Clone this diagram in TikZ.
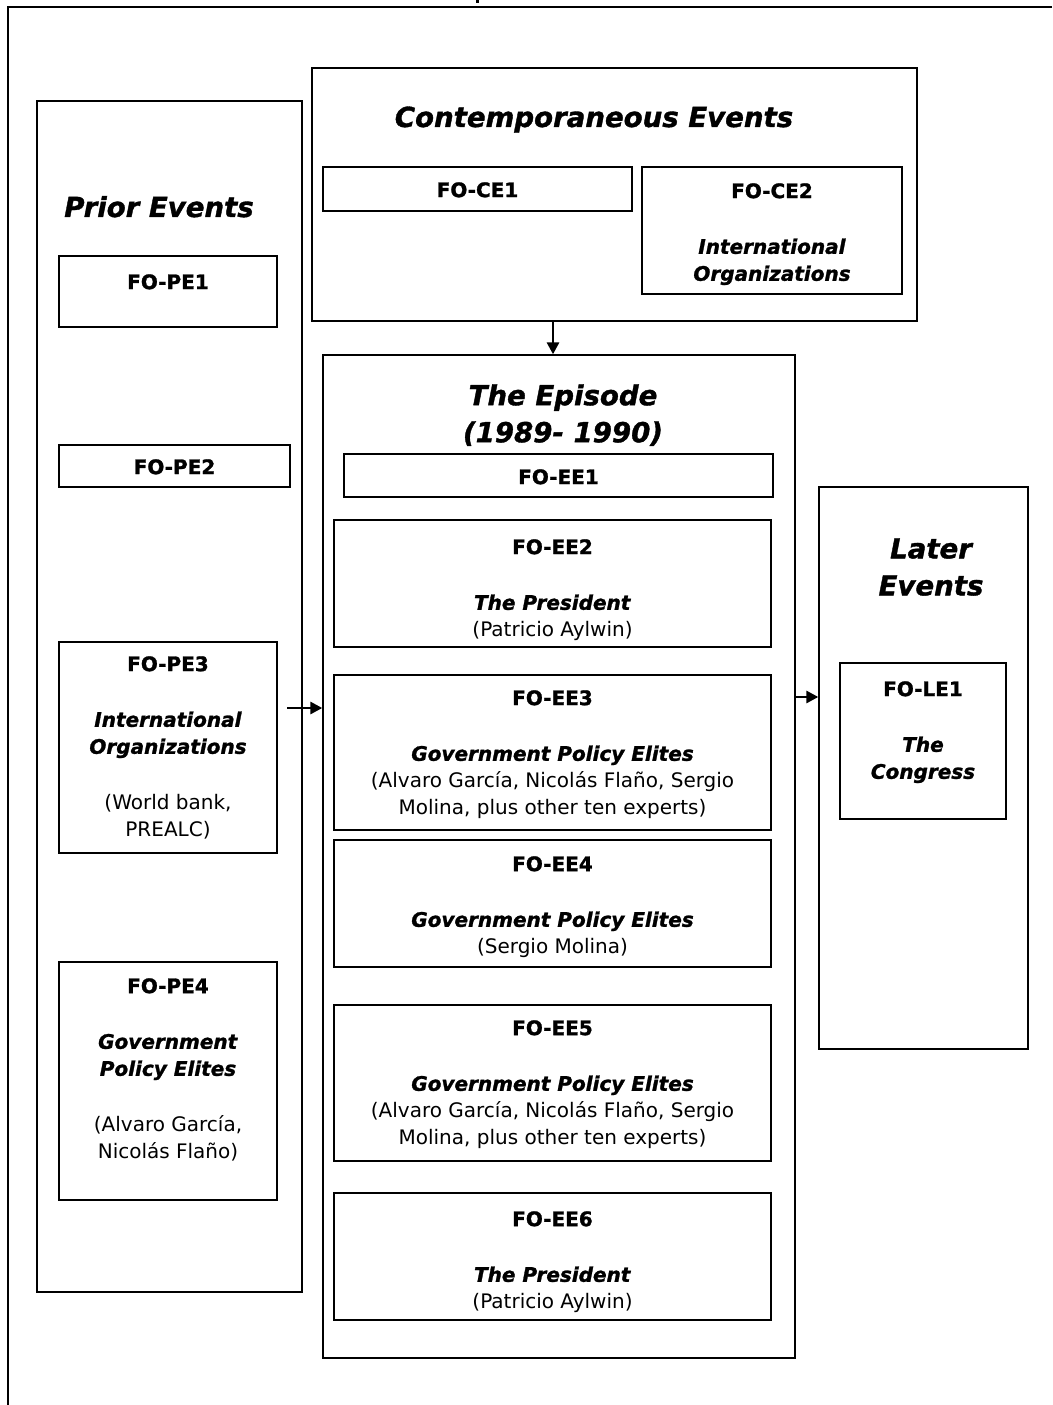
\documentclass[tikz,border=0pt]{standalone}
\usepackage{fontspec}
\setmainfont{DejaVu Sans}[
  BoldFeatures={FakeBold=1.3},
  BoldItalicFeatures={FakeBold=1.3}]
\usetikzlibrary{arrows.meta,fit}

\newcommand\fohead[1]{\textbf{#1}}
\newcommand\forole[1]{\textbf{\textit{#1}}}
\newcommand\gapline{\\[21.5pt]}

\tikzset{
  box/.style={draw, line width=1pt, inner sep=0pt},
  lbl/.style={anchor=north, inner sep=0pt, align=center,
              font=\fontsize{15}{20.25}\selectfont},
  ttl/.style={inner sep=0pt, align=center,
              font=\fontsize{20.7}{27.75}\selectfont\bfseries\itshape},
  arr/.style={line width=2.1pt, -{Triangle[length=9pt,width=9pt]}},
}

\begin{document}
\begin{tikzpicture}[x=0.75pt,y=-0.75pt]
\useasboundingbox (0,0) rectangle (1052,1405);

% page frame
\draw[line width=1pt] (1052,7) -- (8,7) -- (8,1405);
\fill (476,0) rectangle (479,3);

% prior events column
\node[box, fit={(37,101) (302,1292)}] (prior) {};
\node[ttl, anchor=base] (tprior) at (159,217) {Prior Events};
\node[box, fit={(59,256) (277,327)}] (pe1) {};
\node[lbl] (tpe1) at (168,274) {\fohead{FO-PE1}};
\node[box, fit={(59,445) (290,487)}] (pe2) {};
\node[lbl] (tpe2) at (174.5,459) {\fohead{FO-PE2}};
\node[box, fit={(59,642) (277,853)}] (pe3) {};
\node[lbl] (tpe3) at (168,656) {\fohead{FO-PE3}\gapline
  \forole{International}\\ \forole{Organizations}\gapline
  (World bank,\\ PREALC)};
\node[box, fit={(59,962) (277,1200)}] (pe4) {};
\node[lbl] (tpe4) at (168,978) {\fohead{FO-PE4}\gapline
  \forole{Government}\\ \forole{Policy Elites}\gapline
  (Alvaro García,\\ Nicolás Flaño)};

% contemporaneous events
\node[box, fit={(312,68) (917,321)}] (ce) {};
\node[ttl, anchor=base] (tce) at (594,127) {Contemporaneous Events};
\node[box, fit={(323,167) (632,211)}] (ce1) {};
\node[lbl] (tce1) at (477.5,182) {\fohead{FO-CE1}};
\node[box, fit={(642,167) (902,294)}] (ce2) {};
\node[lbl] (tce2) at (772,183) {\fohead{FO-CE2}\gapline
  \forole{International}\\ \forole{Organizations}};

% the episode
\node[box, fit={(323,355) (795,1358)}] (ep) {};
\node[ttl, anchor=north] (tep) at (563,384) {The Episode\\ (1989- 1990)};
\node[box, fit={(344,454) (773,497)}] (ee1) {};
\node[lbl] (tee1) at (558.5,469) {\fohead{FO-EE1}};
\node[box, fit={(334,520) (771,647)}] (ee2) {};
\node[lbl] (tee2) at (552.5,539) {\fohead{FO-EE2}\gapline
  \forole{The President}\\ (Patricio Aylwin)};
\node[box, fit={(334,675) (771,830)}] (ee3) {};
\node[lbl] (tee3) at (552.5,690) {\fohead{FO-EE3}\gapline
  \forole{Government Policy Elites}\\
  (Alvaro García, Nicolás Flaño, Sergio\\ Molina, plus other ten experts)};
\node[box, fit={(334,840) (771,967)}] (ee4) {};
\node[lbl] (tee4) at (552.5,856) {\fohead{FO-EE4}\gapline
  \forole{Government Policy Elites}\\ (Sergio Molina)};
\node[box, fit={(334,1005) (771,1161)}] (ee5) {};
\node[lbl] (tee5) at (552.5,1020) {\fohead{FO-EE5}\gapline
  \forole{Government Policy Elites}\\
  (Alvaro García, Nicolás Flaño, Sergio\\ Molina, plus other ten experts)};
\node[box, fit={(334,1193) (771,1320)}] (ee6) {};
\node[lbl] (tee6) at (552.5,1211) {\fohead{FO-EE6}\gapline
  \forole{The President}\\ (Patricio Aylwin)};

% later events
\node[box, fit={(819,487) (1028,1049)}] (later) {};
\node[ttl, anchor=north] (tlater) at (931,538) {Later\\ Events};
\node[box, fit={(840,663) (1006,819)}] (le1) {};
\node[lbl] (tle1) at (923,681) {\fohead{FO-LE1}\gapline
  \forole{The}\\ \forole{Congress}};

% connectors
\coordinate (downx) at (553,0);
\draw[arr] (ce.south -| downx) -- (ep.north -| downx);
\coordinate (pstart) at (287,708);
\draw[arr] (pstart) -- (pstart -| ep.west);
\coordinate (ly) at (0,697);
\draw[arr] (ep.east |- ly) -- (later.west |- ly);
\end{tikzpicture}
\end{document}
